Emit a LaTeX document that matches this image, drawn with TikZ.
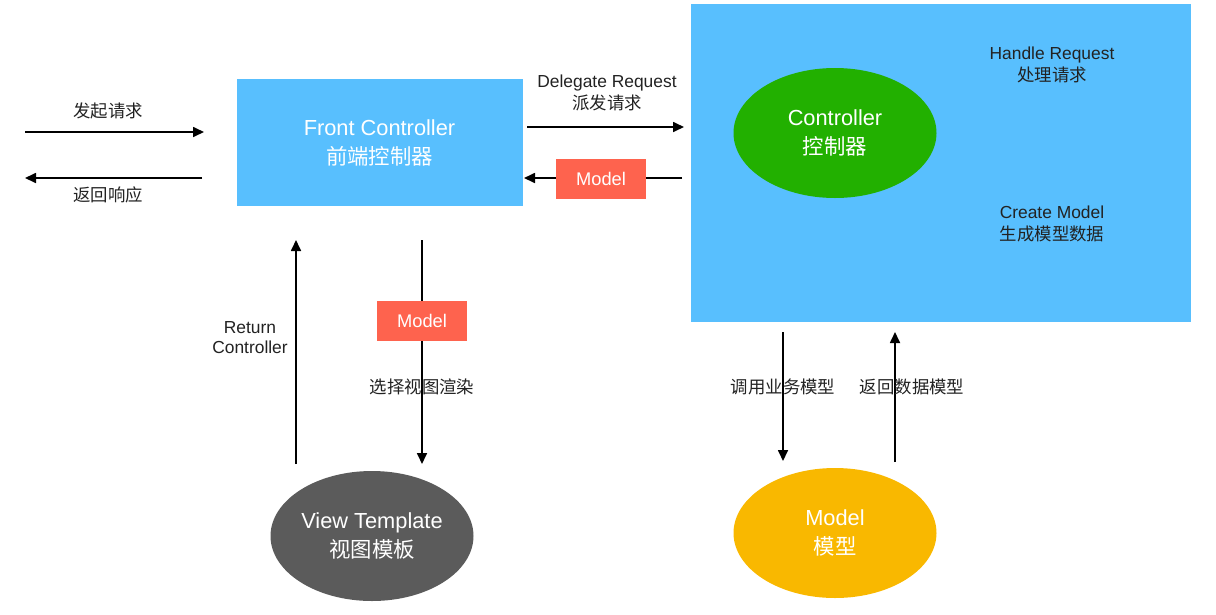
\documentclass[tikz,border=0pt]{standalone}
\usepackage{fontspec}
\setmainfont{Liberation Sans}
\newfontfamily\cjk{Noto Sans CJK SC}
\usetikzlibrary{arrows.meta,shapes.geometric}
\definecolor{cblue}{RGB}{88,191,254}
\definecolor{cgreen}{RGB}{34,176,0}
\definecolor{cred}{RGB}{254,99,78}
\definecolor{cgray}{RGB}{91,91,91}
\definecolor{corange}{RGB}{249,184,0}
\definecolor{ctext}{RGB}{34,34,34}
\tikzset{
  arr/.style={line width=1.7pt, draw=black, -{Triangle[length=11pt,width=10pt]}},
  bluebox/.style={fill=cblue, draw=none, inner sep=0pt, align=center, text=white,
    font={\fontsize{21.8}{29}\selectfont}},
  ell/.style={ellipse, draw=none, inner sep=0pt, minimum width=203pt, minimum height=130pt,
    align=center, text=white, font={\fontsize{21.8}{29}\selectfont}},
  redbox/.style={fill=cred, draw=none, inner sep=0pt, minimum width=90pt, minimum height=40pt,
    text=white, font={\fontsize{18.3}{20}\selectfont}},
  lbl/.style={inner sep=0pt, align=center, text=ctext, font={\fontsize{17.4}{22}\selectfont}},
}
\begin{document}
\begin{tikzpicture}[x=1pt,y=-1pt]
\useasboundingbox (0,0) rectangle (1216,614);
% main shapes
\node[bluebox, minimum width=286pt, minimum height=127pt] (fc) at (379.5,142.5)
  {Front Controller\\{\cjk\fontsize{21.4}{29}\selectfont 前端控制器}};
\node[bluebox, minimum width=500pt, minimum height=318pt] (cbox) at (941,163) {};
\node[ell, fill=cgreen] (ctrl) at (835,133) {Controller\\{\cjk\fontsize{21.4}{29}\selectfont 控制器}};
\node[ell, fill=cgray] (vt) at (372,536) {View Template\\{\cjk\fontsize{21.4}{29}\selectfont 视图模板}};
\node[ell, fill=corange] (mdl) at (835,533) {Model\\{\cjk\fontsize{21.4}{29}\selectfont 模型}};
% connector end points
\coordinate (reqA) at (25,132);   \coordinate (reqB) at (204,132);
\coordinate (rspA) at (202,178);  \coordinate (rspB) at (25,178);
\coordinate (dlgA) at (527,127);  \coordinate (dlgB) at (684,127);
\coordinate (mrA) at (682,178);   \coordinate (mrB) at (524,178);
\coordinate (rcA) at (296,464);   \coordinate (rcB) at (296,240);
\coordinate (svA) at (422,240);   \coordinate (svB) at (422,464);
\coordinate (cmA) at (783,332);   \coordinate (cmB) at (783,461);
\coordinate (rdA) at (895,462);   \coordinate (rdB) at (895,332);
% connectors
\draw[arr] (reqA) -- (reqB);
\draw[arr] (rspA) -- (rspB);
\draw[arr] (dlgA) -- (dlgB);
\draw[arr] (mrA) -- (mrB);
\draw[arr] (rcA) -- (rcB);
\draw[arr] (svA) -- (svB);
\draw[arr] (cmA) -- (cmB);
\draw[arr] (rdA) -- (rdB);
% red model boxes
\node[redbox] (m1) at (601,178.5) {Model};
\node[redbox] (m2) at (422,321) {Model};
% labels
\node[lbl] (l1) at (108,111) {\cjk 发起请求};
\node[lbl] (l2) at (108,195) {\cjk 返回响应};
\node[lbl] (l3) at (607,93) {Delegate Request\\{\cjk 派发请求}};
\node[lbl] (l4) at (1052,65) {Handle Request\\{\cjk 处理请求}};
\node[lbl] (l5) at (1052,223.5) {Create Model\\{\cjk 生成模型数据}};
\node[lbl, font={\fontsize{17.4}{20}\selectfont}] (l6) at (250,338) {Return\\Controller};
\node[lbl] (l7) at (422,387) {\cjk 选择视图渲染};
\node[lbl] (l8) at (783,387) {\cjk 调用业务模型};
\node[lbl] (l9) at (912,387) {\cjk 返回数据模型};
\end{tikzpicture}
\end{document}
